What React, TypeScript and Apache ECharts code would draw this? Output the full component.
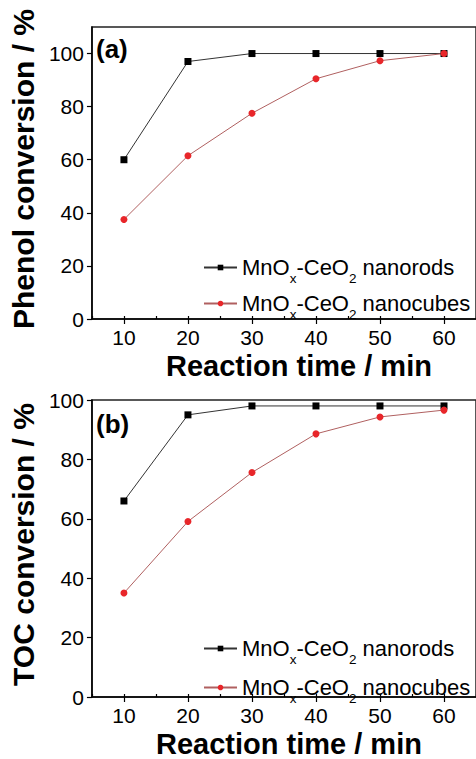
import React, { useEffect, useRef } from "react";
import * as echarts from "echarts";

const FONT = "Liberation Sans, Arial, Helvetica, sans-serif";

const times = [10, 20, 30, 40, 50, 60];
const phenolRods = [60, 97, 100, 100, 100, 100];
const phenolCubes = [37.5, 61.5, 77.5, 90.5, 97.3, 100];
const tocRods = [66, 95, 98, 98, 98, 98];
const tocCubes = [35, 59.1, 75.6, 88.6, 94.3, 96.6];

const xMajor = [10, 20, 30, 40, 50, 60];
const yMajor = [0, 20, 40, 60, 80, 100];

const seriesNames = {
  rods: "MnOx-CeO2 nanorods",
  cubes: "MnOx-CeO2 nanocubes",
};

const pair = (xs: number[], ys: number[]) => xs.map((x, i) => [x, ys[i]]);

export default function App() {
  const ref = useRef<HTMLDivElement>(null);
  useEffect(() => {
    if (!ref.current) return;
    const chart = echarts.init(ref.current, null, { renderer: "svg" });

    const grids = [
      { left: 88.5, top: 27, width: 391.5, height: 292 },
      { left: 88.5, top: 400, width: 388.5, height: 301.7 },
    ];
    const yMax = [110, 100];

    const xAxes: any[] = [];
    const yAxes: any[] = [];
    grids.forEach((g, gi) => {
      xAxes.push({
        type: "value",
        gridIndex: gi,
        min: 5,
        max: 65,
        name: "Reaction time / min",
        nameLocation: "middle",
        nameGap: 32,
        nameTextStyle: {
          fontFamily: FONT,
          fontWeight: "bold",
          fontSize: 29,
          color: "#000",
          padding: gi === 0 ? [0, 0, 0, 30] : [0, 0, 0, 10],
        },
        axisLine: { show: true, lineStyle: { color: "#000", width: 1.5 } },
        axisTick: { show: true, inside: false, length: 5, customValues: xMajor, lineStyle: { color: "#000", width: 1.2 } },
        axisLabel: { customValues: xMajor, margin: 8, fontFamily: FONT, fontSize: 21, color: "#000" },
        splitLine: { show: false },
      });
      xAxes.push({
        type: "value",
        gridIndex: gi,
        min: 5,
        max: 65,
        interval: 5,
        axisLine: { show: false },
        axisTick: { show: true, inside: false, length: 3, lineStyle: { color: "#000", width: 1.2 } },
        axisLabel: { show: false },
        splitLine: { show: false },
      });
      yAxes.push({
        type: "value",
        gridIndex: gi,
        min: 0,
        max: yMax[gi],
        name: gi === 0 ? "Phenol conversion / %" : "TOC conversion / %",
        nameLocation: "middle",
        nameGap: 46,
        nameTextStyle: {
          fontFamily: FONT,
          fontWeight: "bold",
          fontSize: 30,
          color: "#000",
          padding: [0, 0, 0, 8],
        },
        axisLine: { show: true, lineStyle: { color: "#000", width: 1.5 } },
        axisTick: { show: true, inside: false, length: 5, customValues: yMajor, lineStyle: { color: "#000", width: 1.2 } },
        axisLabel: { customValues: yMajor, margin: 8, fontFamily: FONT, fontSize: 21, color: "#000" },
        splitLine: { show: false },
      });
      yAxes.push({
        type: "value",
        gridIndex: gi,
        min: 0,
        max: yMax[gi],
        interval: 10,
        axisLine: { show: false },
        axisTick: { show: true, inside: false, length: 3, lineStyle: { color: "#000", width: 1.2 } },
        axisLabel: { show: false },
        splitLine: { show: false },
      });
    });

    const rich = {
      a: { fontSize: 22, lineHeight: 24, verticalAlign: "middle", fontFamily: FONT, color: "#000" },
      s: { fontSize: 13.5, lineHeight: 14, verticalAlign: "middle", fontFamily: FONT, color: "#000", padding: [22, 0, 0, 0] },
    };
    const fmt = (name: string) =>
      name.indexOf("rods") >= 0
        ? "{a|MnO}{s|x}{a|-CeO}{s|2}{a| nanorods}"
        : "{a|MnO}{s|x}{a|-CeO}{s|2}{a| nanocubes}";

    const mkLegend = (name: string, top: number) => ({
      left: 203,
      top,
      padding: 0,
      orient: "vertical",
      data: [name],
      itemWidth: 33,
      itemHeight: 7,
      selectedMode: false,
      formatter: fmt,
      textStyle: { rich, fontSize: 22, fontFamily: FONT, color: "#000" },
    });

    const rodStyle = (xi: number, yi: number, name: string, data: number[][]) => ({
      type: "line",
      name,
      xAxisIndex: xi,
      yAxisIndex: yi,
      data,
      symbol: "rect",
      symbolSize: 7,
      itemStyle: { color: "#000" },
      lineStyle: { color: "#333", width: 1 },
    });
    const cubeStyle = (xi: number, yi: number, name: string, data: number[][]) => ({
      type: "line",
      name,
      xAxisIndex: xi,
      yAxisIndex: yi,
      data,
      symbol: "circle",
      symbolSize: 7,
      itemStyle: { color: "#e8262a" },
      lineStyle: { color: "#b06060", width: 1 },
    });

    const option: any = {
      animation: false,
      backgroundColor: "#fff",
      grid: grids.map((g) => ({ ...g, show: true, borderColor: "#222", borderWidth: 1.5, backgroundColor: "transparent" })),
      xAxis: xAxes,
      yAxis: yAxes,
      legend: [
        mkLegend(seriesNames.rods + " (a)", 249.5),
        mkLegend(seriesNames.cubes + " (a)", 285.5),
        mkLegend(seriesNames.rods + " (b)", 630.5),
        mkLegend(seriesNames.cubes + " (b)", 669.5),
      ],
      graphic: [
        { type: "text", x: 96, y: 49, style: { text: "(a)", font: `bold 26px ${FONT}`, verticalAlign: "middle", fill: "#000" } },
        { type: "text", x: 96, y: 423.5, style: { text: "(b)", font: `bold 26px ${FONT}`, verticalAlign: "middle", fill: "#000" } },
      ],
      series: [
        rodStyle(0, 0, seriesNames.rods + " (a)", pair(times, phenolRods)),
        cubeStyle(0, 0, seriesNames.cubes + " (a)", pair(times, phenolCubes)),
        rodStyle(2, 2, seriesNames.rods + " (b)", pair(times, tocRods)),
        cubeStyle(2, 2, seriesNames.cubes + " (b)", pair(times, tocCubes)),
      ],
    };
    chart.setOption(option);
    return () => chart.dispose();
  }, []);
  return <div ref={ref} style={{ position: "absolute", left: 0, top: 0, width: 476, height: 759 }} />;
}
